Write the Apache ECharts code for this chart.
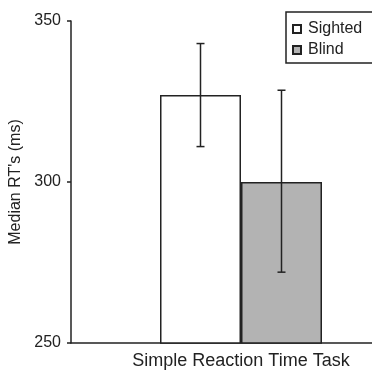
<!DOCTYPE html>
<html>
<head>
<meta charset="utf-8">
<script src="https://cdn.jsdelivr.net/npm/echarts@6/dist/echarts.min.js"></script>
<style>html,body{margin:0;padding:0;background:#fff;}#main{width:372px;height:370px;}</style>
</head>
<body>
<div id="main"></div>
<script>
// data
var categories = ['Simple Reaction Time Task'];
var seriesNames = ['Sighted', 'Blind'];
var sightedMedian = [327];
var blindMedian = [300];
var sightedErr = [[311, 343]];   // [low, high]
var blindErr = [[272, 328.5]];
var yTicks = [250, 300, 350];

var chart = echarts.init(document.getElementById('main'));
var BAR_W = 81;
var FONT = 'Liberation Sans, Arial, sans-serif';

function errItem(offset) {
  return function (params, api) {
    var lo = api.coord([api.value(0), api.value(1)]);
    var hi = api.coord([api.value(0), api.value(2)]);
    var x = lo[0] + offset;
    var cap = 4;
    var st = { stroke: '#222', lineWidth: 1.5 };
    return {
      type: 'group',
      children: [
        { type: 'line', shape: { x1: x, y1: lo[1], x2: x, y2: hi[1] }, style: st },
        { type: 'line', shape: { x1: x - cap, y1: lo[1], x2: x + cap, y2: lo[1] }, style: st },
        { type: 'line', shape: { x1: x - cap, y1: hi[1], x2: x + cap, y2: hi[1] }, style: st }
      ]
    };
  };
}

function errData(arr) {
  return arr.map(function (e, i) { return [i, e[0], e[1]]; });
}

var option = {
  animation: false,
  textStyle: { fontFamily: FONT },
  grid: { left: 71, top: 21, width: 340, height: 322, outerBoundsMode: 'none' },
  legend: {
    orient: 'vertical',
    left: 286,
    top: 12,
    data: seriesNames,
    itemWidth: 8,
    itemHeight: 8,
    itemGap: 5,
    padding: [9, 40, 5, 6],
    borderColor: '#222',
    borderWidth: 1.5,
    icon: 'rect',
    textStyle: { fontSize: 16, color: '#222', fontFamily: FONT, padding: [0, 0, 0, 2] }
  },
  xAxis: {
    type: 'category',
    data: categories,
    axisLine: { lineStyle: { color: '#222', width: 1.5 } },
    axisTick: { show: false },
    axisLabel: { fontSize: 18, color: '#222', margin: 9 }
  },
  yAxis: {
    type: 'value',
    min: yTicks[0],
    max: yTicks[yTicks.length - 1],
    interval: 50,
    name: "Median RT's (ms)",
    nameLocation: 'middle',
    nameGap: 43,
    nameTextStyle: { fontSize: 16, color: '#222' },
    axisLine: { show: true, lineStyle: { color: '#222', width: 1.5 } },
    axisTick: { show: true, length: 4, lineStyle: { color: '#222', width: 1.5 } },
    axisLabel: { fontSize: 16, color: '#222', margin: 10 },
    splitLine: { show: false }
  },
  series: [
    {
      name: seriesNames[0],
      type: 'bar',
      data: sightedMedian,
      barWidth: BAR_W,
      barGap: '0%',
      itemStyle: { color: '#fff', borderColor: '#222', borderWidth: 1.5 }
    },
    {
      name: seriesNames[1],
      type: 'bar',
      data: blindMedian,
      barWidth: BAR_W,
      barGap: '0%',
      itemStyle: { color: '#b3b3b3', borderColor: '#222', borderWidth: 1.5 }
    },
    {
      type: 'custom',
      renderItem: errItem(-BAR_W / 2),
      data: errData(sightedErr),
      encode: { x: 0, y: [1, 2] },
      z: 5
    },
    {
      type: 'custom',
      renderItem: errItem(BAR_W / 2),
      data: errData(blindErr),
      encode: { x: 0, y: [1, 2] },
      z: 5
    }
  ]
};
chart.setOption(option);
</script>
</body>
</html>
